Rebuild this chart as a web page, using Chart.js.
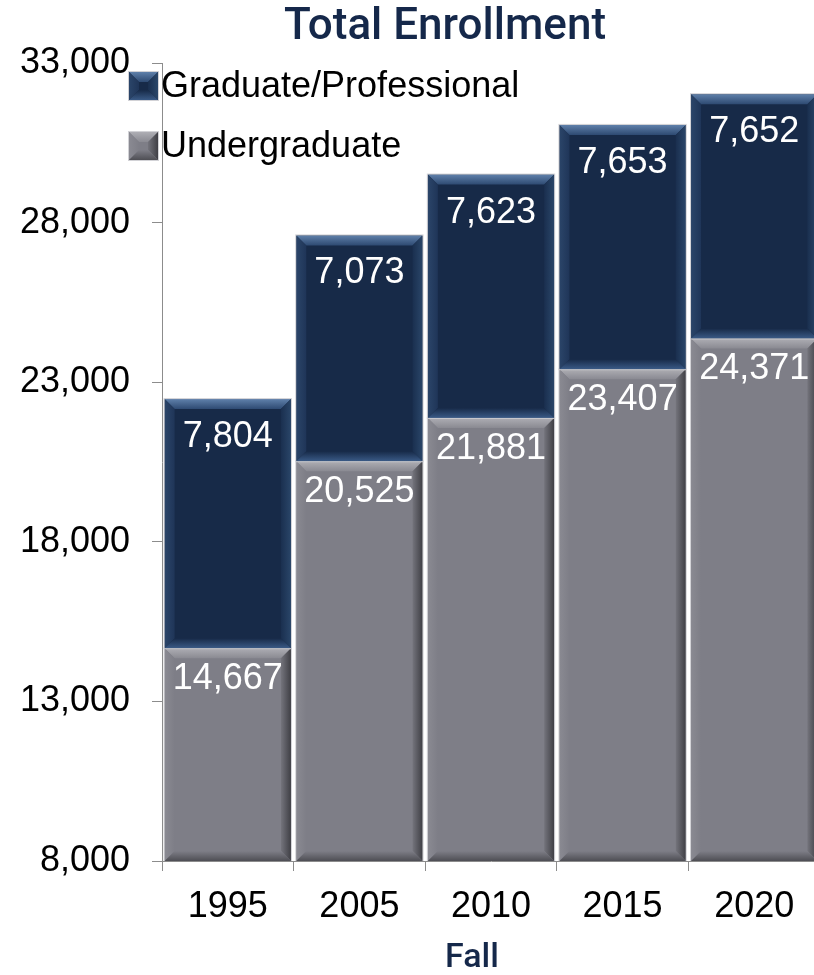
<!DOCTYPE html>
<html lang="en">
<head>
    <meta charset="UTF-8">
    <title>Total Enrollment</title>
    <script src="https://cdn.jsdelivr.net/npm/chart.js"></script>
    <style>
        body { margin: 0; padding: 0; background: #fff; overflow: hidden; }
        .wrap { width: 822px; height: 975px; }
    </style>
</head>
<body>
    <div class="wrap"><canvas id="chart" width="822" height="975"></canvas></div>

    <script>
        const years = ['1995', '2005', '2010', '2015', '2020'];
        const undergraduate = [14667, 20525, 21881, 23407, 24371];
        const graduate = [7804, 7073, 7623, 7653, 7652];
        const yTicks = [8000, 13000, 18000, 23000, 28000, 33000];

        const NAVY = '#15284a';
        const FONT = '"Liberation Sans", Arial, sans-serif';

        // colours for the beveled faces of each series
        const bevels = {
            grad: { face: '#172a48', top: '#5f80aa', topIn: '#2e4a72', left: '#2b4569', leftIn: '#1f3558', right: '#1a2f4f', rightOut: '#2a4669', bottom: '#3a5a86' },
            under: { face: '#7e7e87', top: '#aeaeb4', topIn: '#8a8a92', left: '#8a8a92', leftIn: '#7e7e87', right: '#74747c', rightOut: '#3f3f45', bottom: '#4e4e54' }
        };

        function poly(ctx, pts, fill) {
            ctx.beginPath();
            ctx.moveTo(pts[0][0], pts[0][1]);
            for (let i = 1; i < pts.length; i++) ctx.lineTo(pts[i][0], pts[i][1]);
            ctx.closePath();
            ctx.fillStyle = fill;
            ctx.fill();
        }

        function grad(ctx, x0, y0, x1, y1, a, b) {
            const g = ctx.createLinearGradient(x0, y0, x1, y1);
            g.addColorStop(0, a);
            g.addColorStop(1, b);
            return g;
        }

        function bevelBox(ctx, l, t, r, b, d, c) {
            ctx.fillStyle = c.face;
            ctx.fillRect(l, t, r - l, b - t);
            poly(ctx, [[l, t], [r, t], [r - d, t + d], [l + d, t + d]], grad(ctx, 0, t, 0, t + d, c.top, c.topIn));
            poly(ctx, [[l, t], [l + d, t + d], [l + d, b - d], [l, b]], grad(ctx, l, 0, l + d, 0, c.left, c.leftIn));
            poly(ctx, [[r, t], [r, b], [r - d, b - d], [r - d, t + d]], grad(ctx, r - d, 0, r, 0, c.right, c.rightOut));
            poly(ctx, [[l, b], [r, b], [r - d, b - d], [l + d, b - d]], grad(ctx, 0, b - d, 0, b, c.face, c.bottom));
            ctx.strokeStyle = 'rgba(205,205,210,0.9)';
            ctx.lineWidth = 1;
            ctx.strokeRect(l - 0.5, t - 0.5, r - l + 1, b - t + 1);
        }

        const bevelBars = {
            id: 'bevelBars',
            afterDatasetsDraw(chart) {
                const ctx = chart.ctx;
                const area = chart.chartArea;
                ctx.save();
                ctx.beginPath();
                ctx.rect(area.left, area.top - 20, area.right - area.left, area.bottom - area.top + 20);
                ctx.clip();
                chart.data.datasets.forEach((ds, di) => {
                    const meta = chart.getDatasetMeta(di);
                    meta.data.forEach((bar, i) => {
                        const p = bar.getProps(['x', 'y', 'base', 'width'], true);
                        const l = p.x - p.width / 2, r = p.x + p.width / 2;
                        const t = Math.min(p.y, p.base);
                        const b = Math.min(Math.max(p.y, p.base), area.bottom);
                        bevelBox(ctx, l, t, r, b, 10, bevels[ds.bevel]);

                        ctx.fillStyle = '#ffffff';
                        ctx.font = '36px ' + FONT;
                        ctx.textAlign = 'center';
                        ctx.textBaseline = 'middle';
                        const off = ds.bevel === 'grad' ? 38 : 31;
                        ctx.fillText(ds.data[i].toLocaleString('en-US'), p.x, t + off);
                    });
                });
                ctx.restore();
            }
        };

        // legend sits over the top-left of the plot, graduate first
        const cornerLegend = {
            id: 'cornerLegend',
            afterDraw(chart) {
                const ctx = chart.ctx;
                const area = chart.chartArea;
                const items = chart.data.datasets.slice().reverse();
                ctx.save();
                items.forEach((ds, k) => {
                    const x = area.left - 33;
                    const y = area.top + 9 + k * 60;
                    bevelBox(ctx, x, y, x + 29, y + 28, 10, bevels[ds.bevel]);
                    ctx.fillStyle = '#000';
                    ctx.font = '36px ' + FONT;
                    ctx.textAlign = 'left';
                    ctx.textBaseline = 'middle';
                    ctx.fillText(ds.label, x + 32, y + 15);
                });

                ctx.fillStyle = NAVY;
                ctx.textAlign = 'center';
                ctx.textBaseline = 'middle';
                const mid = (area.left + area.right) / 2;
                ctx.font = '500 44px Roboto, ' + FONT;
                ctx.fillText('Total Enrollment', mid - 46, 28);
                ctx.font = '500 34px Roboto, ' + FONT;
                ctx.fillText('Fall', mid - 19, 958);
                ctx.restore();
            }
        };

        const ctx = document.getElementById('chart').getContext('2d');
        const chart = new Chart(ctx, {
            type: 'bar',
            data: {
                labels: years,
                datasets: [
                    { label: 'Undergraduate', data: undergraduate, bevel: 'under', backgroundColor: bevels.under.face },
                    { label: 'Graduate/Professional', data: graduate, bevel: 'grad', backgroundColor: bevels.grad.face }
                ]
            },
            options: {
                responsive: false,
                animation: false,
                layout: { padding: { top: 63, right: 2, left: 0, bottom: 0 } },
                datasets: { bar: { barPercentage: 0.96, categoryPercentage: 1, borderWidth: 0 } },
                plugins: {
                    legend: { display: false },
                    tooltip: { enabled: false },
                    title: { display: false }
                },
                scales: {
                    x: {
                        stacked: true,
                        grid: { offset: true, drawOnChartArea: false, tickLength: 10, color: '#8c8c8c' },
                        border: { color: '#8c8c8c' },
                        ticks: { color: '#000', font: { family: FONT, size: 36 }, padding: 14 },
                        afterFit(scale) { scale.height = 975 - 861; }
                    },
                    y: {
                        stacked: true,
                        min: 8000,
                        max: 33000,
                        afterBuildTicks(scale) { scale.ticks = yTicks.map(v => ({ value: v })); },
                        grid: { drawOnChartArea: false, tickLength: 10, color: '#8c8c8c' },
                        border: { color: '#8c8c8c' },
                        ticks: {
                            color: '#000',
                            font: { family: FONT, size: 36 },
                            padding: 22,
                            callback: v => v.toLocaleString('en-US')
                        },
                        afterFit(scale) { scale.width = 162; }
                    }
                }
            },
            plugins: [bevelBars, cornerLegend]
        });
    </script>
</body>
</html>
